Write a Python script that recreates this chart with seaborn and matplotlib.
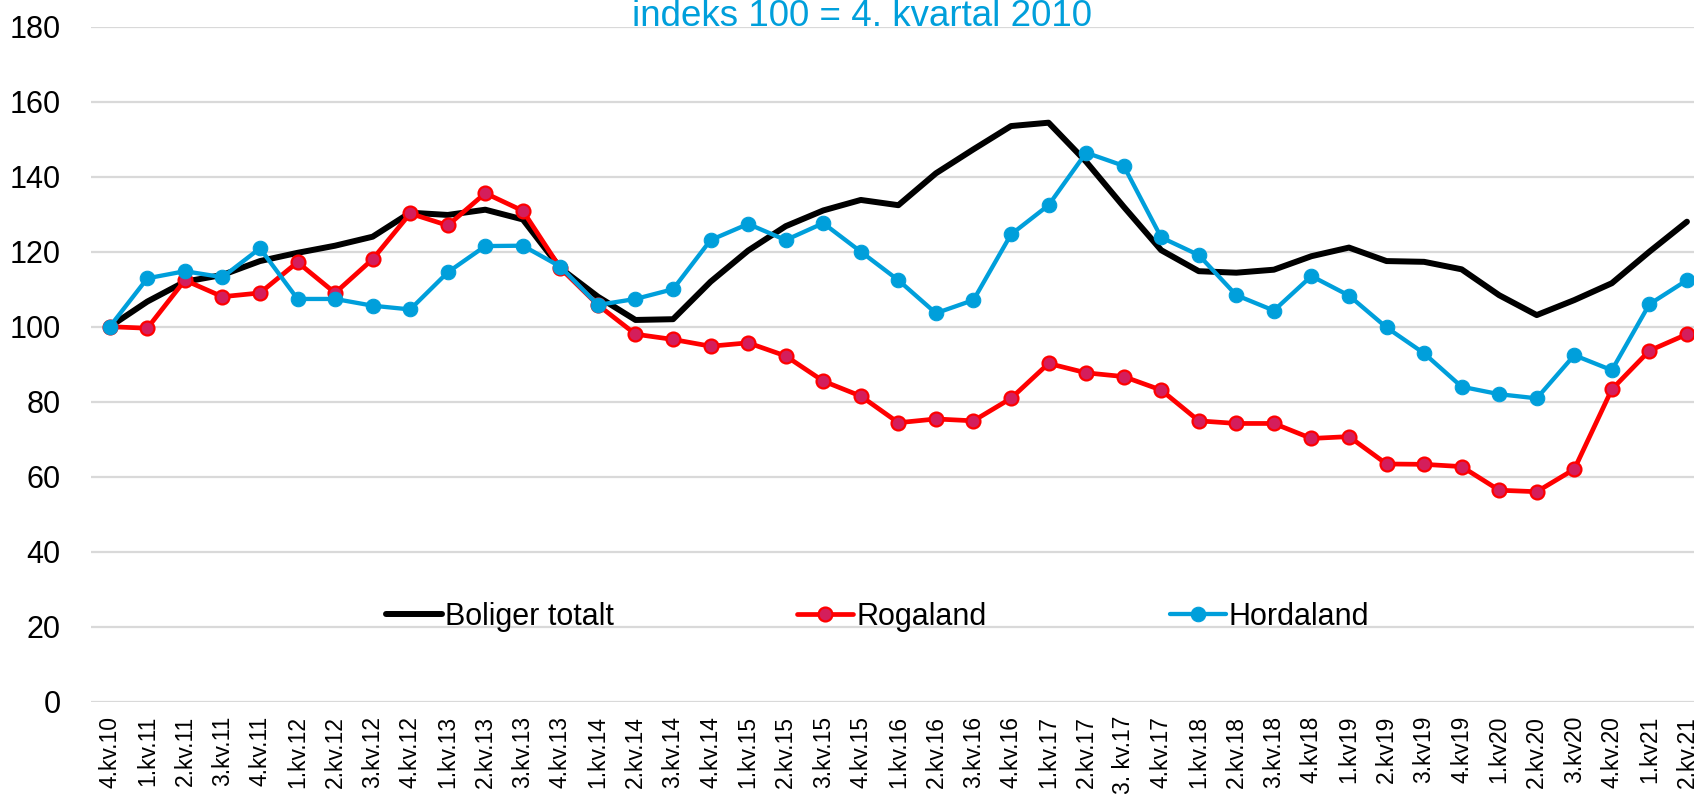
import numpy as np
import pandas as pd
import matplotlib
matplotlib.use("Agg")
import matplotlib.pyplot as plt
import seaborn as sns

# quarters, index 100 = 4th quarter 2010
kvartal = ["4.kv.10", "1.kv.11", "2.kv.11", "3.kv.11", "4.kv.11", "1.kv.12", "2.kv.12",
           "3.kv.12", "4.kv.12", "1.kv.13", "2.kv.13", "3.kv.13", "4.kv.13", "1.kv.14",
           "2.kv.14", "3.kv.14", "4.kv.14", "1.kv.15", "2.kv.15", "3.kv.15", "4.kv.15",
           "1.kv.16", "2.kv.16", "3.kv.16", "4.kv.16", "1.kv.17", "2.kv.17", "3. kv.17",
           "4.kv.17", "1.kv.18", "2.kv.18", "3.kv.18", "4.kv18", "1.kv19", "2.kv19",
           "3.kv19", "4.kv19", "1.kv20", "2.kv.20", "3.kv20", "4.kv.20", "1.kv21", "2.kv.21"]

boliger_totalt = [100, 106.7, 112, 113.8, 117.5, 119.7, 121.6, 124, 130.4, 129.8, 131.2,
                  128.6, 115.6, 108, 101.8, 102, 112, 120.3, 126.8, 131, 133.8, 132.4,
                  140.9, 147.3, 153.5, 154.4, 144, 132, 120.4, 114.8, 114.4, 115.2, 118.8,
                  121.1, 117.5, 117.3, 115.3, 108.4, 103.1, 107.1, 111.6, 120, 128]

rogaland = [100, 99.6, 112.4, 108, 109, 117.2, 109, 118, 130.2, 127, 135.6, 130.9, 115.6,
            105.8, 98, 96.6, 94.8, 95.7, 92.2, 85.5, 81.5, 74.4, 75.4, 74.9, 80.9, 90.2,
            87.7, 86.7, 83.1, 74.9, 74.2, 74.2, 70.2, 70.7, 63.4, 63.3, 62.7, 56.4, 56,
            62, 83.3, 93.6, 98]

hordaland = [100, 112.9, 114.8, 113.2, 120.9, 107.4, 107.4, 105.6, 104.6, 114.5, 121.5,
             121.6, 116, 105.8, 107.4, 110, 123.1, 127.4, 123.1, 127.6, 120, 112.4, 103.6,
             107.1, 124.6, 132.4, 146.4, 142.9, 123.8, 119.1, 108.4, 104.3, 113.5, 108.3,
             99.8, 92.9, 84, 82, 80.9, 92.4, 88.4, 106, 112.4]

sns.set_style("white")
plt.rcParams['font.family'] = ['Liberation Sans', 'DejaVu Sans']
plt.rcParams['text.color'] = 'black'
plt.rcParams['xtick.color'] = 'black'
plt.rcParams['ytick.color'] = 'black'

blue = "#009FDB"
pos = np.arange(len(kvartal))

fig = plt.figure(figsize=(16.94, 7.94), dpi=100)
ax = fig.add_axes([91 / 1694, 0.1162, 0.9532, 0.8502])

sns.lineplot(x=pos, y=boliger_totalt, ax=ax, color="black", linewidth=4.3,
             label="Boliger totalt", sort=False, zorder=3)
sns.lineplot(x=pos, y=rogaland, ax=ax, color="#FF0000", linewidth=3.4, marker="o",
             markersize=10, markerfacecolor="#D41E5C", markeredgecolor="#FF0000",
             markeredgewidth=1.6, label="Rogaland", sort=False, zorder=4)
sns.lineplot(x=pos, y=hordaland, ax=ax, color=blue, linewidth=3.1, marker="o",
             markersize=10.5, markerfacecolor=blue, markeredgecolor=blue,
             label="Hordaland", sort=False, zorder=5)

ax.set_xlim(-0.5, 42.5)
ax.set_ylim(0, 180)
ax.set_yticks(range(0, 181, 20))
ax.set_xticks(pos)
ax.set_xticklabels(kvartal, rotation=90, fontsize=16.5)
ax.tick_params(axis="y", labelsize=22, length=0, pad=22)
ax.tick_params(axis="x", length=0, pad=10)
ax.grid(axis="y", color="#D9D9D9", linewidth=1.6)
ax.set_axisbelow(True)
for s in ax.spines.values():
    s.set_visible(False)
ax.set_xlabel("")
ax.set_ylabel("")

ax.legend(loc="center left", bbox_to_anchor=(386 / 1694, (794 - 617) / 794),
          bbox_transform=fig.transFigure, ncol=3, frameon=False, fontsize=22,
          handlelength=1.83, handletextpad=0.1, columnspacing=6.0,
          borderpad=0, borderaxespad=0, labelcolor="black")

fig.text(0.509, (794 - 26) / 794, "indeks 100 = 4. kvartal 2010", color=blue,
         fontsize=26.5, ha="center", va="baseline")

fig.savefig("out.png", dpi=100)
